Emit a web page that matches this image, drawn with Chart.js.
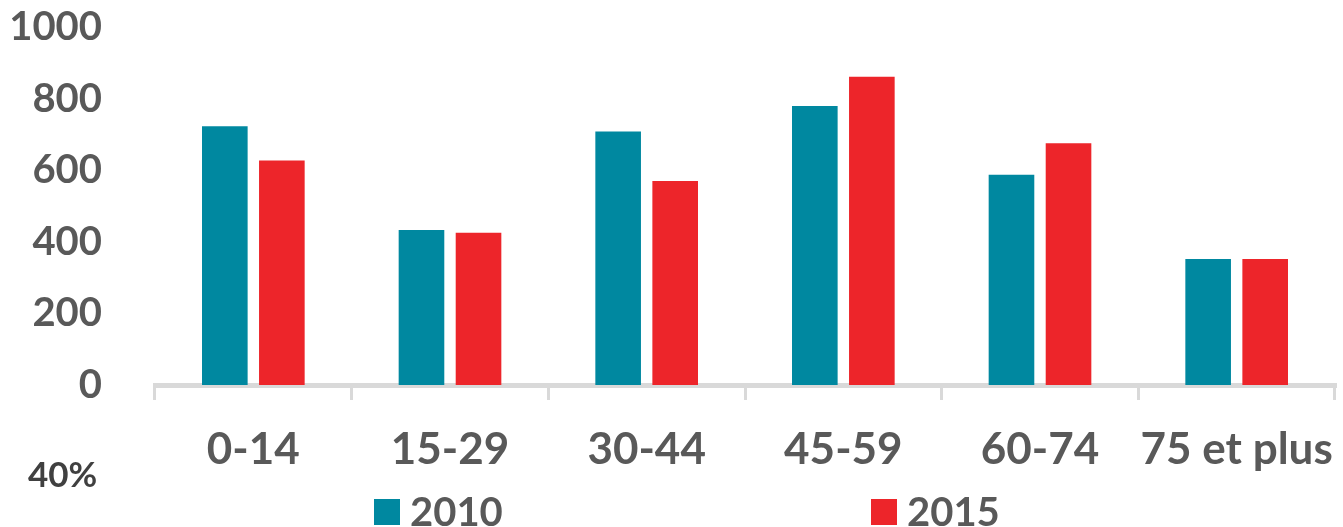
<!DOCTYPE html>
<html>
<head>
<meta charset="utf-8">
<script src="https://cdn.jsdelivr.net/npm/chart.js@4/dist/chart.umd.min.js"></script>
<style>
  html, body { margin: 0; padding: 0; background: #ffffff; }
  #wrap { width: 1343px; height: 527px; position: relative; }
</style>
</head>
<body>
<div id="wrap"><canvas id="chart"></canvas></div>
<script>
// Age groups and population per series
const categories = ["0-14", "15-29", "30-44", "45-59", "60-74", "75 et plus"];
const seriesNames = ["2010", "2015"];
const values2010 = [723, 433, 708, 779, 587, 352];
const values2015 = [627, 425, 570, 861, 675, 352];
const yTicks = [0, 200, 400, 600, 800, 1000];
const noteText = "40%";

const TEAL = "#0088a0";
const RED = "#ed252a";
const LABEL_GREY = "#595959";
const AXIS_GREY = "#d9d9d9";
const FONT = "Lato, 'Open Sans', sans-serif";

// legend + stray note drawn under the axis
const bottomNotes = {
    id: "bottomNotes",
    afterDraw(chart) {
        const { ctx } = chart;
        const boxX = [374, 871];
        ctx.save();
        ctx.font = `bold 40px ${FONT}`;
        ctx.textBaseline = "middle";
        ctx.textAlign = "left";
        chart.data.datasets.forEach((ds, i) => {
            ctx.fillStyle = ds.backgroundColor;
            ctx.fillRect(boxX[i], 499, 26, 26);
            ctx.fillStyle = LABEL_GREY;
            ctx.fillText(ds.label, boxX[i] + 36, 513);
        });
        ctx.font = `bold 35px ${FONT}`;
        ctx.fillStyle = "#404040";
        ctx.fillText(noteText, 28, 476);
        ctx.restore();
    }
};

new Chart(document.getElementById("chart"), {
    type: "bar",
    data: {
        labels: categories,
        datasets: [
            { label: seriesNames[0], data: values2010, backgroundColor: TEAL },
            { label: seriesNames[1], data: values2015, backgroundColor: RED }
        ]
    },
    options: {
        responsive: true,
        maintainAspectRatio: false,
        animation: false,
        categoryPercentage: 0.58,
        barPercentage: 0.8,
        layout: {
            padding: { top: 0, right: 8, bottom: 52, left: 0 }
        },
        plugins: {
            legend: { display: false },
            tooltip: { enabled: false }
        },
        scales: {
            x: {
                z: 1,
                afterFit: (scale) => {
                    scale.height = 90;
                    scale.paddingLeft = 0;
                    scale.paddingRight = 0;
                },
                grid: {
                    display: true,
                    offset: true,
                    drawOnChartArea: false,
                    drawTicks: true,
                    tickLength: 15,
                    lineWidth: 3,
                    color: AXIS_GREY
                },
                border: { display: true, width: 5, color: AXIS_GREY },
                ticks: {
                    color: LABEL_GREY,
                    padding: 23,
                    maxRotation: 0,
                    autoSkip: false,
                    font: { family: FONT, size: 44, weight: "bold" }
                }
            },
            y: {
                min: 0,
                max: 1000,
                afterBuildTicks: (scale) => {
                    scale.ticks = yTicks.map((v) => ({ value: v }));
                },
                afterFit: (scale) => {
                    scale.width = 155;
                    scale.paddingTop = 27;
                    scale.paddingBottom = 0;
                },
                grid: { display: false },
                border: { display: false },
                ticks: {
                    color: LABEL_GREY,
                    padding: 45,
                    callback: (v) => String(v),
                    font: { family: FONT, size: 40, weight: "bold" }
                }
            }
        }
    },
    plugins: [bottomNotes]
});
</script>
</body>
</html>
